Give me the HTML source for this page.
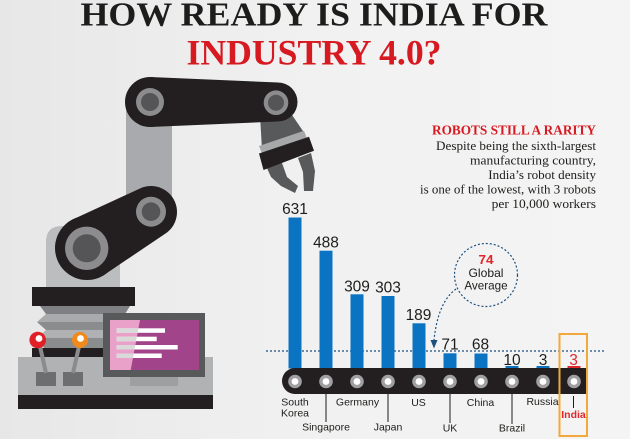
<!DOCTYPE html>
<html><head><meta charset="utf-8">
<style>
html,body{margin:0;padding:0;background:#efefef;}
body{width:630px;height:439px;overflow:hidden;}
svg{display:block;}
</style></head><body>
<svg width="630" height="439" viewBox="0 0 630 439" xmlns="http://www.w3.org/2000/svg">
<defs>
<linearGradient id="bg" x1="0" x2="1" y1="0" y2="0">
<stop offset="0" stop-color="#e7e7e8"/>
<stop offset="0.5" stop-color="#f1f1f1"/>
<stop offset="1" stop-color="#f4f4f4"/>
</linearGradient>
<clipPath id="pinkclip"><polygon points="110,320 140,320 130.7,370 110,370"/></clipPath>
</defs>
<rect width="630" height="439" fill="url(#bg)"/>

<!-- Title -->
<text x="314" y="25.5" text-anchor="middle" font-family="Liberation Serif, serif" font-weight="bold" font-size="34" fill="#1d1d1b" textLength="467" lengthAdjust="spacingAndGlyphs">HOW READY IS INDIA FOR</text>
<text x="314" y="64.5" text-anchor="middle" font-family="Liberation Serif, serif" font-weight="bold" font-size="36" fill="#d71a21" textLength="255" lengthAdjust="spacingAndGlyphs">INDUSTRY 4.0?</text>

<!-- Robot: columns -->
<rect x="126" y="100" width="46" height="125" fill="#a9aaad"/>
<path d="M46,287 L46,242 Q46,226 62,226 L120,226 L120,287 Z" fill="#bcbdbf"/>

<!-- Gripper -->
<polygon points="260,115 290,112 305,134 262,150" fill="#58595b"/>
<polygon points="266,166 282,163 287,177 298,186 295,193 281,186 271,177" fill="#58595b"/>
<polygon points="298,158 311,153 315,171 313,191 304,191 303,172" fill="#58595b"/>
<polygon points="259,146 304,130.7 307,138.5 262,153.5" fill="#a7a8aa"/>
<polygon points="259,153.5 309,136.7 314,150.7 263.5,170" fill="#231f20"/>

<!-- Upper arm -->
<g fill="#231f20">
<circle cx="150" cy="102" r="25"/>
<circle cx="278" cy="102" r="19.5"/>
<polygon points="150,77 278,82.5 278,121.5 150,127"/>
</g>
<circle cx="150" cy="102" r="14" fill="#8c8c8e"/>
<circle cx="150" cy="102" r="9" fill="#555557"/>
<circle cx="276" cy="102.7" r="12.3" fill="#8c8c8e"/>
<circle cx="276" cy="102.7" r="8" fill="#555557"/>

<!-- Lower arm -->
<g fill="#231f20">
<circle cx="151" cy="212" r="26"/>
<circle cx="87" cy="248" r="32"/>
<polygon points="138.3,189.3 163.7,234.7 102.7,275.9 71.3,220.1"/>
</g>
<circle cx="151" cy="211.7" r="15" fill="#8c8c8e"/>
<circle cx="151" cy="211.7" r="9.3" fill="#555557"/>
<circle cx="86.7" cy="248.3" r="21.7" fill="#8c8c8e"/>
<circle cx="86.7" cy="248.3" r="14" fill="#555557"/>

<!-- Black plate -->
<rect x="32" y="287" width="103" height="19" fill="#231f20"/>

<!-- Bellows -->
<polygon points="40,306 130,306 125,314 46,314" fill="#7f8083"/>
<polygon points="46,314 125,314 130,322 37,322" fill="#a9aaac"/>
<polygon points="37,322 130,322 125,330 46,330" fill="#8b8c8e"/>
<polygon points="46,330 125,330 130,338 37,338" fill="#b0b1b3"/>
<polygon points="37,338 130,338 125,348 44,348" fill="#8b8c8e"/>
<rect x="32" y="348" width="100" height="9" fill="#231f20"/>

<!-- Console -->
<rect x="18" y="357" width="195" height="38" fill="#b1b2b4"/>
<rect x="18" y="395" width="195" height="14" fill="#231f20"/>

<!-- Monitor -->
<rect x="103" y="313" width="102" height="64" fill="#58595b"/>
<rect x="110" y="320" width="89" height="50" fill="#a24489"/>
<polygon points="110,320 140,320 130.7,370 110,370" fill="#e9a1c9"/>
<g fill="#ffffff">
<rect x="116.7" y="328.3" width="48.3" height="4.5"/>
<rect x="116.7" y="336.7" width="40" height="4.5"/>
<rect x="116.7" y="345" width="61" height="4.5"/>
<rect x="116.7" y="353.5" width="45" height="4.5"/>
</g>
<g fill="#d9d9d9" clip-path="url(#pinkclip)">
<rect x="116.7" y="328.3" width="48.3" height="4.5"/>
<rect x="116.7" y="336.7" width="40" height="4.5"/>
<rect x="116.7" y="345" width="61" height="4.5"/>
<rect x="116.7" y="353.5" width="45" height="4.5"/>
</g>
<rect x="130" y="377" width="48" height="9" fill="#9e9fa1"/>

<!-- Levers -->
<rect x="36" y="372" width="20" height="14" fill="#6d6e70"/>
<rect x="63" y="372" width="20" height="14" fill="#6d6e70"/>
<line x1="39" y1="342" x2="46" y2="373" stroke="#8a8b8d" stroke-width="4"/>
<line x1="80" y1="342" x2="73" y2="373" stroke="#8a8b8d" stroke-width="4"/>
<circle cx="37.7" cy="340" r="8.3" fill="#e01f26"/>
<circle cx="39" cy="338.5" r="3.4" fill="#ffffff"/>
<circle cx="80" cy="340" r="8" fill="#f08a1c"/>
<circle cx="80.5" cy="338.5" r="3.4" fill="#ffffff"/>

<!-- Right text block -->
<g font-family="Liberation Serif, serif" text-anchor="end">
<text x="596" y="134.5" font-weight="bold" font-size="13.5" fill="#d71a21" textLength="164" lengthAdjust="spacingAndGlyphs">ROBOTS STILL A RARITY</text>
<g font-size="12.5" fill="#1d1d1b">
<text x="596" y="150" textLength="160" lengthAdjust="spacingAndGlyphs">Despite being the sixth-largest</text>
<text x="596" y="164.5" textLength="126" lengthAdjust="spacingAndGlyphs">manufacturing country,</text>
<text x="596" y="179" textLength="107.7" lengthAdjust="spacingAndGlyphs">India’s robot density</text>
<text x="596" y="193.5" textLength="176" lengthAdjust="spacingAndGlyphs">is one of the lowest, with 3 robots</text>
<text x="596" y="208" textLength="104.3" lengthAdjust="spacingAndGlyphs">per 10,000 workers</text>
</g>
</g>

<!-- Dashed global average line -->
<line x1="266" y1="351" x2="604" y2="351" stroke="#1b4f7e" stroke-width="1.2" stroke-dasharray="2,2"/>

<!-- Bars -->
<g fill="#0a74c3">
<rect x="288.5" y="217.5" width="13" height="151"/>
<rect x="319.5" y="250.7" width="13" height="117.8"/>
<rect x="350.5" y="294.3" width="13" height="74.2"/>
<rect x="381.5" y="296" width="13" height="72.5"/>
<rect x="412.5" y="323.3" width="13" height="45.2"/>
<rect x="443.5" y="353.3" width="13" height="15.2"/>
<rect x="474.5" y="353.5" width="13" height="15"/>
<rect x="505.5" y="366" width="13" height="2.5"/>
<rect x="536.5" y="366" width="13" height="2.5"/>
</g>
<rect x="567.5" y="366" width="13" height="2.5" fill="#e0262b"/>

<!-- Bar labels -->
<g font-family="Liberation Sans, sans-serif" font-size="15.5" fill="#1d1d1b" text-anchor="middle">
<text x="295" y="214">631</text>
<text x="326" y="247.3">488</text>
<text x="357" y="291.7">309</text>
<text x="388" y="292.5">303</text>
<text x="418.5" y="320">189</text>
<text x="450" y="349.5">71</text>
<text x="480.5" y="349.5">68</text>
<text x="512" y="365">10</text>
<text x="543" y="365">3</text>
<text x="573.5" y="365" fill="#e0262b">3</text>
</g>

<!-- Global average bubble -->
<circle cx="486" cy="275" r="31.5" fill="none" stroke="#1b4f7e" stroke-width="1.2" stroke-dasharray="2,2"/>
<path d="M456,289 Q438,302 434,340" fill="none" stroke="#1b4f7e" stroke-width="1.2" stroke-dasharray="2,2"/>
<polygon points="430.5,340 437.5,340 434,348.5" fill="#1b4f7e"/>
<g font-family="Liberation Sans, sans-serif" text-anchor="middle">
<text x="486" y="264" font-weight="bold" font-size="12.5" fill="#e0262b" textLength="15" lengthAdjust="spacingAndGlyphs">74</text>
<text x="486" y="277" font-size="12" fill="#1d1d1b" textLength="35" lengthAdjust="spacingAndGlyphs">Global</text>
<text x="486" y="289.5" font-size="12" fill="#1d1d1b" textLength="43.3" lengthAdjust="spacingAndGlyphs">Average</text>
</g>

<!-- Conveyor -->
<path d="M295,368 H587 V394 H295 A13,13 0 0 1 295,368 Z" fill="#231f20"/>
<g fill="#a0a0a2">
<circle cx="295" cy="381.5" r="6.8"/><circle cx="326" cy="381.5" r="6.8"/><circle cx="357" cy="381.5" r="6.8"/><circle cx="388" cy="381.5" r="6.8"/><circle cx="419" cy="381.5" r="6.8"/><circle cx="450" cy="381.5" r="6.8"/><circle cx="481" cy="381.5" r="6.8"/><circle cx="512" cy="381.5" r="6.8"/><circle cx="543" cy="381.5" r="6.8"/><circle cx="574" cy="381.5" r="6.8"/>
</g>
<g fill="#ffffff">
<circle cx="295" cy="381.5" r="3.4"/><circle cx="326" cy="381.5" r="3.4"/><circle cx="357" cy="381.5" r="3.4"/><circle cx="388" cy="381.5" r="3.4"/><circle cx="419" cy="381.5" r="3.4"/><circle cx="450" cy="381.5" r="3.4"/><circle cx="481" cy="381.5" r="3.4"/><circle cx="512" cy="381.5" r="3.4"/><circle cx="543" cy="381.5" r="3.4"/><circle cx="574" cy="381.5" r="3.4"/>
</g>

<!-- Ticks -->
<g stroke="#1d1d1b" stroke-width="1">
<line x1="326" y1="393" x2="326" y2="422"/>
<line x1="388" y1="393" x2="388" y2="422"/>
<line x1="450" y1="394" x2="450" y2="423"/>
<line x1="512" y1="394" x2="512" y2="424"/>
<line x1="573.5" y1="396" x2="573.5" y2="408"/>
</g>

<!-- Country labels -->
<g font-family="Liberation Sans, sans-serif" font-size="10.5" fill="#1d1d1b" text-anchor="middle">
<text x="295" y="405.5">South</text>
<text x="295" y="416.5">Korea</text>
<text x="326" y="430.5">Singapore</text>
<text x="357.5" y="405.5">Germany</text>
<text x="388" y="430.5">Japan</text>
<text x="418.5" y="406">US</text>
<text x="450" y="431.5">UK</text>
<text x="480.5" y="406">China</text>
<text x="512" y="431.5">Brazil</text>
<text x="542.5" y="405">Russia</text>
<text x="573.5" y="418" fill="#e0262b" font-weight="bold">India</text>
</g>

<!-- India highlight box -->
<rect x="559.5" y="334" width="27.5" height="102" fill="none" stroke="#f2a83a" stroke-width="2"/>
</svg>
</body></html>
